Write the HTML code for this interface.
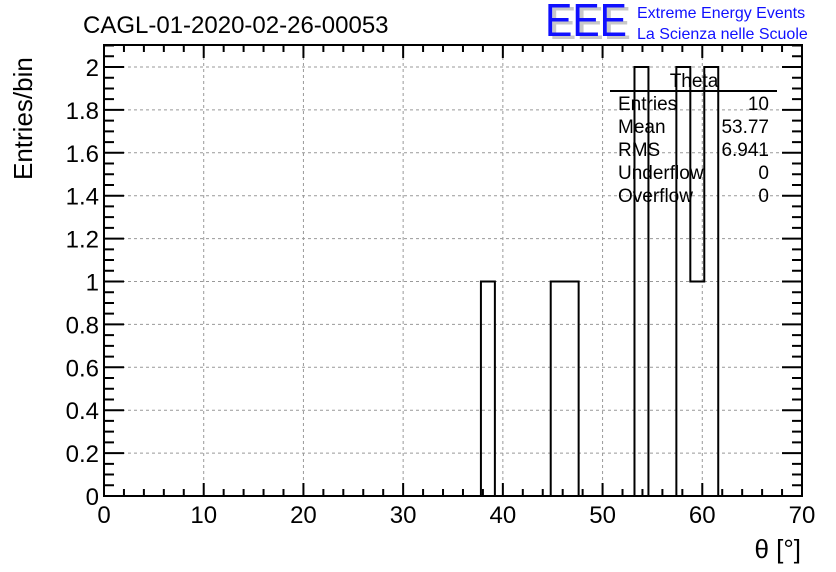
<!DOCTYPE html>
<html><head><meta charset="utf-8"><style>
body{margin:0;background:#fff;}
svg{display:block;font-family:"Liberation Sans",sans-serif;}
</style></head><body>
<svg id="c" width="836" height="572" xmlns="http://www.w3.org/2000/svg">
<text x="83" y="33" font-size="24">CAGL-01-2020-02-26-00053</text>
<g>
<text x="549" y="39" font-size="46" fill="#c8c8c8" textLength="82" lengthAdjust="spacingAndGlyphs">EEE</text>
<text x="545" y="36" font-size="46" fill="#1010ff" textLength="82" lengthAdjust="spacingAndGlyphs">EEE</text>
<text x="637" y="18" font-size="16" fill="#1010ff">Extreme Energy Events</text>
<text x="637" y="39" font-size="16" fill="#1010ff">La Scienza nelle Scuole</text>
</g>
<g id="grid"></g>
<g id="bars"></g>
<g id="axes"></g>
<text x="32" y="180" font-size="26" transform="rotate(-90 32 180)">Entries/bin</text>
<text x="801" y="558" font-size="26" text-anchor="end">θ [°]</text>
<g font-size="19">
<text x="694" y="87" text-anchor="middle">Theta</text>
<line x1="610" y1="91" x2="777" y2="91" stroke="#000" stroke-width="2"/>
<text x="618" y="110">Entries</text><text x="769" y="110" text-anchor="end">10</text>
<text x="618" y="133">Mean</text><text x="769" y="133" text-anchor="end">53.77</text>
<text x="618" y="156">RMS</text><text x="769" y="156" text-anchor="end">6.941</text>
<text x="618" y="179">Underflow</text><text x="769" y="179" text-anchor="end">0</text>
<text x="618" y="202">Overflow</text><text x="769" y="202" text-anchor="end">0</text>
</g>
</svg>
<script>
const binLow = [37.8, 44.8, 46.2, 53.2, 57.4, 58.8, 60.2];
const binCounts = [1, 1, 1, 2, 2, 1, 2];
const binWidth = 1.4;
const xTickLabels = ["0","10","20","30","40","50","60","70"];
const yTickLabels = ["0","0.2","0.4","0.6","0.8","1","1.2","1.4","1.6","1.8","2"];
const X0=104, X1=802, Y0=496, Y1=45;
const xs = v => X0 + v*(X1-X0)/70;
const ys = v => Y0 - v*214.5;
const NS="http://www.w3.org/2000/svg";
function mk(tag, attrs, parent){const e=document.createElementNS(NS,tag);for(const k in attrs)e.setAttribute(k,attrs[k]);parent.appendChild(e);return e;}
const grid=document.getElementById('grid'), axes=document.getElementById('axes'), bars=document.getElementById('bars');
xTickLabels.forEach((l,i)=>{const v=+l;const x=xs(v);
 if(i>0&&i<xTickLabels.length-1){const g=mk('line',{x1:x,x2:x,y1:Y1,y2:Y0,stroke:'#999','stroke-dasharray':'3,3'},grid);
 
 }
 const t=mk('text',{x:x,y:Y0+27,'font-size':24,'text-anchor':'middle'},axes);t.textContent=l;
 
 
});
yTickLabels.forEach((l,i)=>{const v=+l;const y=ys(v);
 if(i>0){const g=mk('line',{x1:X0,x2:X1,y1:y,y2:y,stroke:'#999','stroke-dasharray':'3,3'},grid);
 
 }
 const t=mk('text',{x:X0-5,y:y+9,'font-size':24,'text-anchor':'end'},axes);t.textContent=l;
 
 
});
// step outline across all 50 bins
const nb=50, counts=new Array(nb).fill(0);
binLow.forEach((b,i)=>{counts[Math.round(b/binWidth)]+=binCounts[i];});
let d='M'+X0+','+Y0, prev=0;
for(let k=0;k<nb;k++){const xa=xs(k*binWidth),xb=xs((k+1)*binWidth);
 if(counts[k]!==prev) d+=' L'+xa+','+ys(prev)+' L'+xa+','+ys(counts[k]);
 prev=counts[k];
 if(k===nb-1) d+=' L'+xb+','+ys(prev);}
const p=mk('path',{d:d,fill:'none',stroke:'#000','stroke-width':2},bars);


// ticks
let td='';
for(let v=0;v<=70.001;v+=2){const x=xs(v);const L=(Math.round(v)%10===0)?13:7;
 td+=`M${x},${Y0}V${Y0-L}M${x},${Y1}V${Y1+L}`;}
for(let k=0;k<=44;k++){const v=k*0.05;const y=ys(v);if(y<Y1)break;const L=(k%4===0)?20:10;
 td+=`M${X0},${y}H${X0+L}M${X1},${y}H${X1-L}`;}
const tk=mk('path',{d:td,stroke:'#000','stroke-width':2,fill:'none'},axes);


const fr=mk('rect',{x:X0,y:Y1,width:X1-X0,height:Y0-Y1,fill:'none',stroke:'#000','stroke-width':2},axes);


</script>
</body></html>
